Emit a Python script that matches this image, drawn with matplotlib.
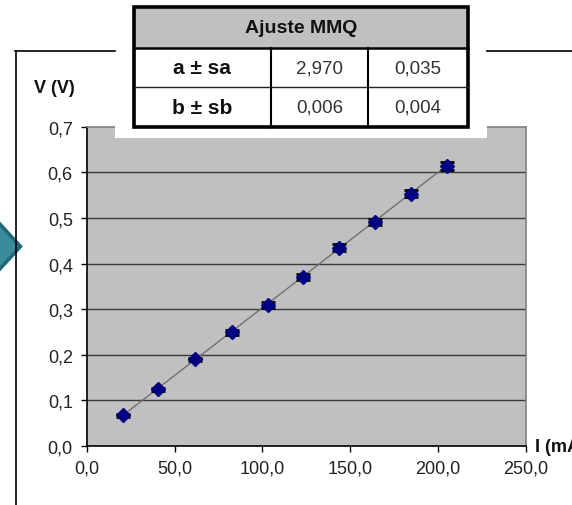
import matplotlib.pyplot as plt
from matplotlib.patches import Rectangle, Polygon

plt.rcParams["font.family"] = ["Liberation Sans", "DejaVu Sans"]

# dados
corrente = [20.5, 40.7, 61.6, 82.5, 103.3, 123.0, 143.9, 164.2, 184.5, 205.4]  # I (mA)
tensao = [0.067, 0.124, 0.190, 0.249, 0.309, 0.371, 0.435, 0.491, 0.553, 0.614]  # V (V)
erro_v = [0.003, 0.004, 0.004, 0.005, 0.006, 0.006, 0.007, 0.007, 0.008, 0.009]

# tabela do ajuste MMQ
titulo_tabela = "Ajuste MMQ"
linhas_tabela = ["a ± sa", "b ± sb"]
valores = [["2,970", "0,035"], ["0,006", "0,004"]]
a_fit = 2.970
b_fit = 0.006

xticks = [0, 50, 100, 150, 200, 250]
yticks = [0.0, 0.1, 0.2, 0.3, 0.4, 0.5, 0.6, 0.7]

W, H = 572, 506
fig = plt.figure(figsize=(W / 100, H / 100), dpi=100)
fig.patch.set_facecolor("white")

# eixo principal (posição em pixels)
x0, x1, y0, y1 = 86.7, 525.7, 447.0, 127.8
ax = fig.add_axes([x0 / W, (H - y0) / H, (x1 - x0) / W, (y0 - y1) / H])
ax.set_facecolor("#c0c0c0")
ax.set_xlim(0, 250)
ax.set_ylim(0, 0.7)
ax.set_xticks(xticks)
ax.set_yticks(yticks)
ax.set_xticklabels([f"{v:.1f}".replace(".", ",") for v in xticks])
ax.set_yticklabels([f"{v:.1f}".replace(".", ",") for v in yticks])
ax.tick_params(direction="out", length=4, width=1, colors="black", labelsize=13, labelcolor="#222222")
ax.tick_params(axis="x", pad=6)
ax.tick_params(axis="y", pad=6)
for y in yticks[1:-1]:
    ax.axhline(y, color="#3a3a3a", lw=1, zorder=1)
ax.spines["left"].set_color("black")
ax.spines["bottom"].set_color("black")
ax.spines["right"].set_color("#808080")
ax.spines["top"].set_color("#808080")
for s in ax.spines.values():
    s.set_linewidth(1.2)

# reta do ajuste
xf = [corrente[0], corrente[-1]]
yf = [a_fit / 1000 * x + b_fit for x in xf]
ax.plot(xf, yf, color="#707070", lw=1, zorder=2)
ax.errorbar(corrente, tensao, yerr=erro_v, fmt="D", color="#000080", ms=7,
            ecolor="black", elinewidth=1, capsize=5, capthick=2, zorder=3)

# camada por cima em pixels
ov = fig.add_axes([0, 0, 1, 1], zorder=5)
ov.set_xlim(0, W)
ov.set_ylim(H, 0)
ov.axis("off")

# moldura do gráfico e seta
ov.plot([15.7, 15.7], [52, 520], color="black", lw=1.2, clip_on=False)
ov.plot([15, 115], [52, 52], color="black", lw=1.2)
ov.plot([487, 580], [52, 52], color="black", lw=1.2, clip_on=False)
ov.add_patch(Polygon([(-12, 212), (20.5, 247.5), (-12, 283)], closed=True,
                     facecolor="#3a8c9c", edgecolor="#1f6878", lw=2.5))

# caixa branca e tabela
ov.add_patch(Rectangle((115, -5), 372, 144, facecolor="white", edgecolor="none"))
tx0, tx1, tc1, tc2 = 133.5, 468, 271, 368
ty0, ty1, ty2, ty3 = 7.5, 49, 88, 128
ov.add_patch(Rectangle((tx0, ty0), tx1 - tx0, ty1 - ty0, facecolor="#c0c0c0", edgecolor="none"))
ov.plot([tx0, tx1], [ty1, ty1], color="black", lw=1.8)
ov.plot([tx0, tx1], [ty2, ty2], color="#222222", lw=1)
ov.plot([tc1, tc1], [ty1, ty3], color="black", lw=1.5)
ov.plot([tc2, tc2], [ty1, ty3], color="black", lw=1.5)
ov.add_patch(Rectangle((tx0, ty0), tx1 - tx0, ty3 - ty0, facecolor="none", edgecolor="black", lw=2.6))
ov.text((tx0 + tx1) / 2, (ty0 + ty1) / 2, titulo_tabela, ha="center", va="center",
        fontsize=14, fontweight="bold", color="#111111")
cols = [(tx0 + tc1) / 2, (tc1 + tc2) / 2, (tc2 + tx1) / 2]
rows = [(ty1 + ty2) / 2, (ty2 + ty3) / 2]
for i, nome in enumerate(linhas_tabela):
    ov.text(cols[0], rows[i], nome, ha="center", va="center", fontsize=15, fontweight="bold", color="#111111")
    for j, v in enumerate(valores[i]):
        ov.text(cols[j + 1], rows[i], v, ha="center", va="center", fontsize=13.5, color="#333333")

# rótulos dos eixos
ov.text(34, 88, "V (V)", ha="left", va="center", fontsize=13, fontweight="bold", color="#111111")
ov.text(535, 448, "I (mA)", ha="left", va="center", fontsize=13, fontweight="bold", color="#111111")

fig.savefig("out.png", dpi=100)
